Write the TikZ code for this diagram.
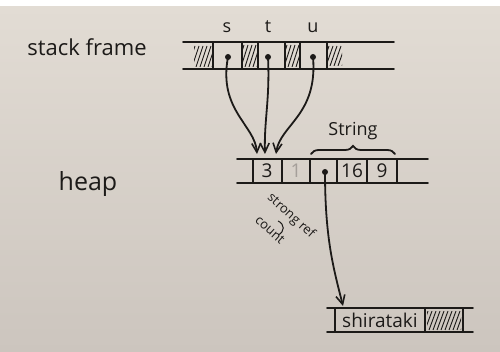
\documentclass[tikz,border=0pt]{standalone}
\usepackage{fontspec}
\setmainfont{Open Sans}
\usetikzlibrary{arrows.meta,decorations.pathreplacing}
\definecolor{papertop}{RGB}{226,220,212}
\definecolor{paperbot}{RGB}{204,197,190}
\definecolor{inkc}{RGB}{28,26,24}
\newcommand\myhatch[4]{%
  \begin{scope}
    \clip (#1,#2) rectangle (#3,#4);
    \foreach \hx in {-10,-6,...,46}
      \draw[hatchline] ({#1+\hx},#4) -- ++(7,{#2-#4});
  \end{scope}}
\begin{document}
\begin{tikzpicture}[x=1pt,y=-1pt,
  ink/.style={line width=1.8pt,draw=inkc,line cap=round},
  hatchline/.style={draw=inkc,line width=0.9pt},
  dot/.style={circle,fill=inkc,inner sep=0pt,minimum size=6pt},
  lbl/.style={text=inkc,inner sep=0pt},
  ptr/.style={line width=1.8pt,draw=inkc,-{Straight Barb[length=9pt,width=9pt,line width=1.6pt]}}]
\useasboundingbox (0,0) rectangle (500,352);
\shade[top color=papertop,bottom color=paperbot] (0,6) rectangle (500,352);
\fill[white] (0,0) rectangle (500,6);

% labels
\node[lbl,font=\fontsize{22}{24}\selectfont] (sf) at (87,47) {stack frame};
\node[lbl,font=\fontsize{25}{27}\selectfont] (hp) at (88,184) {heap};

% stack frame row
\draw[ink] (183,42) -- (394,42) (183,69) -- (394,69);
\foreach \x in {213,242,258,285,300,327} \draw[ink] (\x,42) -- (\x,69);
\myhatch{194}{46}{212}{67}
\myhatch{243}{45}{257}{67}
\myhatch{286}{45}{299}{67}
\myhatch{328}{46}{342}{66}
\node[lbl,font=\fontsize{18}{20}\selectfont] (ls) at (227,28) {s};
\node[lbl,font=\fontsize{18}{20}\selectfont] (lt) at (268,27) {t};
\node[lbl,font=\fontsize{18}{20}\selectfont] (lu) at (313,28) {u};
\node[dot] (ds) at (228,57) {};
\node[dot] (dt) at (268,57) {};
\node[dot] (du) at (313,57) {};

% heap row
\draw[ink] (237,159) -- (428,159) (237,183) -- (428,183);
\foreach \x in {253,282,310,337,367,397} \draw[ink] (\x,159) -- (\x,183);
\node[lbl,font=\fontsize{19}{20}\selectfont] (c3) at (267,171) {3};
\node[lbl,font=\fontsize{19}{20}\selectfont,text=inkc!22!paperbot] (c1) at (296,171) {1};
\node[lbl,font=\fontsize{19}{20}\selectfont] (c16) at (352,171) {16};
\node[lbl,font=\fontsize{19}{20}\selectfont] (c9) at (382,171) {9};
\node[dot] (dp) at (325,172) {};
\coordinate (h1) at (257,154);
\coordinate (h2) at (265,154);
\coordinate (h3) at (276,154);
\draw[ink,decorate,decoration={brace,amplitude=8pt}] (311,154) -- (395,154);
\node[lbl,font=\fontsize{18}{20}\selectfont] (str) at (353,131) {String};

% strong ref count
\node[lbl,font=\fontsize{13}{14}\selectfont,rotate=-42] (srt) at (291,216) {strong ref};
\node[lbl,font=\fontsize{13}{14}\selectfont,rotate=-42] (cnt) at (270,230) {count};
\draw[inkc,line width=1pt] (278,221) .. controls (285,224) and (285,232) .. (278,235);

% shirataki row
\draw[ink] (327,308) -- (473,308) (327,332) -- (473,332);
\foreach \x in {335,425,463} \draw[ink] (\x,308) -- (\x,332);
\myhatch{427}{311}{461}{330}
\node[lbl,font=\fontsize{19}{20}\selectfont] (shi) at (380,320) {shirataki};
\coordinate (h4) at (343,306);

% pointers
\draw[ptr] (ds.center) .. controls (218,110) and (255,125) .. (h1);
\draw[ptr] (dt.center) .. controls (270,100) and (264,120) .. (h2);
\draw[ptr] (du.center) .. controls (318,115) and (280,125) .. (h3);
\draw[ptr] (dp.center) .. controls (325,240) and (334,270) .. (h4);
\end{tikzpicture}
\end{document}
